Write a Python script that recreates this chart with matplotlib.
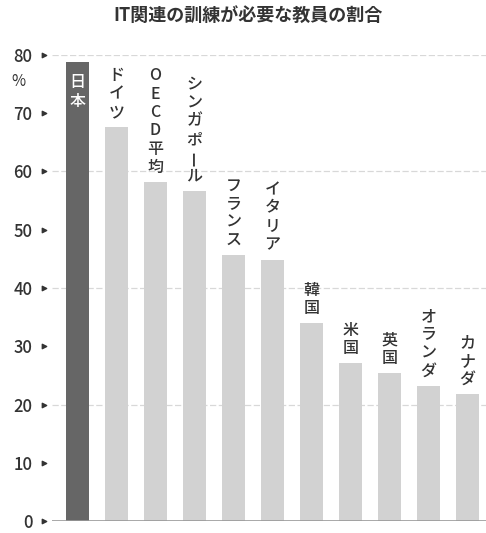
import matplotlib
matplotlib.use('agg')
import matplotlib.pyplot as plt
import matplotlib.transforms as mtrans

plt.rcParams['font.family'] = ['Noto Sans CJK JP', 'DejaVu Sans']

# データ
countries = ['日本', 'ドイツ', 'OECD平均', 'シンガポール', 'フランス', 'イタリア',
             '韓国', '米国', '英国', 'オランダ', 'カナダ']
values = [78.8, 67.6, 58.2, 56.7, 45.6, 44.9, 34.0, 27.1, 25.4, 23.2, 21.8]
yticks = [0, 10, 20, 30, 40, 50, 60, 70, 80]
gridlines = [20, 40, 60, 80]
title = 'IT関連の訓練が必要な教員の割合'

dark = '#666666'
light = '#d2d2d2'
txt = '#333333'

fig = plt.figure(figsize=(4.86, 5.33), dpi=100)
ax = fig.add_axes([0.107, 0.022, 0.893, 0.875])

x = list(range(len(countries)))
colors = [dark] + [light] * (len(countries) - 1)
ax.bar(x, values, width=0.59, color=colors, zorder=2)

for g in gridlines:
    ax.axhline(g, color='#d8d8d8', lw=0.9, ls=(0, (5, 2)), zorder=1)
ax.axhline(0, color='#999999', lw=1.2, zorder=3)

ax.set_xlim(-0.65, 10.47)
ax.set_ylim(0, 80)
ax.set_xticks([])
ax.set_yticks(yticks)
ax.set_yticklabels([str(t) for t in yticks], fontsize=12, color=txt,
                   fontweight='medium')
ax.tick_params(axis='y', length=0, pad=14)
for s in ax.spines.values():
    s.set_visible(False)

# 目盛りの三角
tr = mtrans.blended_transform_factory(ax.transAxes, ax.transData)
ax.scatter([-0.018] * len(yticks), yticks, marker='>', s=10, color=txt,
           transform=tr, clip_on=False, zorder=4)

ax.text(-0.06, 75.5, '%', transform=tr, ha='right', va='center',
        fontsize=11, color=txt)

# 縦書きラベル
pitch = 13.2
for i, (name, v) in enumerate(zip(countries, values)):
    chars = list(name)
    if name.startswith('OECD'):
        chars = ['O', 'E', 'C', 'D', '平', '均']
    n = len(chars)
    for j, ch in enumerate(chars):
        if i == 0:
            off = -15 - j * pitch
            col = 'white'
        else:
            off = 4 + (n - 1 - j) * pitch + 6.5
            col = txt
        rot = 90 if ch == 'ー' else 0
        ax.annotate(ch, xy=(i, v), xytext=(0, off), textcoords='offset points',
                    ha='center', va='center', fontsize=11.5, color=col,
                    fontweight='medium', rotation=rot,
                    rotation_mode='anchor', annotation_clip=False, zorder=5)

fig.text(0.51, 0.972, title, ha='center', va='center', fontsize=13,
         fontweight='bold', color=txt)

plt.savefig('out.png', dpi=100)
plt.close()
